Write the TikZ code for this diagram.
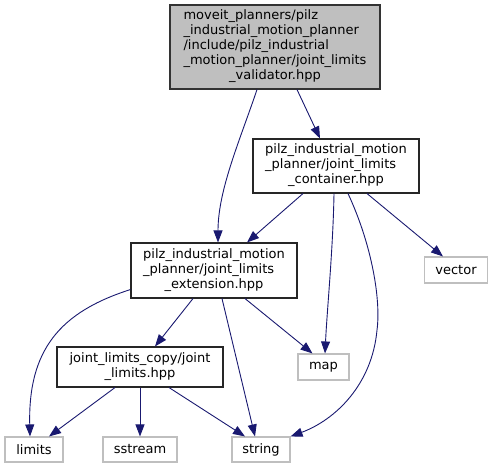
\documentclass[tikz,border=0pt]{standalone}
\usepackage{fontspec}
\setmainfont{DejaVu Sans}
\usetikzlibrary{arrows.meta}
\definecolor{edgeblue}{HTML}{191970}
\definecolor{focusfill}{HTML}{BFBFBF}
\definecolor{extgray}{HTML}{BFBFBF}
\newcommand{\boxtext}[2]{\begin{tabular}{@{}l@{}}#1\\\multicolumn{1}{@{}c@{}}{#2}\end{tabular}}
\tikzset{
  basefont/.style={font=\fontsize{13bp}{15bp}\selectfont},
  plainbox/.style={basefont, draw=black!85, line width=1.1bp, fill=white, inner sep=0pt},
  focusbox/.style={plainbox, fill=focusfill, draw=black!80},
  extbox/.style={basefont, draw=extgray, line width=1.1bp, fill=white, inner sep=0pt, minimum height=25bp},
  dep/.style={draw=edgeblue, line width=0.9bp, -{Triangle[length=12bp,width=9bp]}}
}
\begin{document}
\begin{tikzpicture}[x=1bp,y=-1bp]
\useasboundingbox (0,0) rectangle (493,468);
% nodes
\node[focusbox, minimum width=210bp, minimum height=84bp] (top) at (275,47)
  {\boxtext{moveit\_planners/pilz\\\_industrial\_motion\_planner\\/include/pilz\_industrial\\\_motion\_planner/joint\_limits}{\_validator.hpp}};
\node[plainbox, minimum width=166bp, minimum height=54bp] (cont) at (336,166)
  {\boxtext{pilz\_industrial\_motion\\\_planner/joint\_limits}{\_container.hpp}};
\node[plainbox, minimum width=166bp, minimum height=55bp] (ext) at (214,270.5)
  {\boxtext{pilz\_industrial\_motion\\\_planner/joint\_limits}{\_extension.hpp}};
\node[plainbox, minimum width=166bp, minimum height=40bp] (jlc) at (140,367)
  {\boxtext{joint\_limits\_copy/joint}{\_limits.hpp}};
\node[extbox, minimum width=63bp, minimum height=26bp] (vector) at (456,270) {vector};
\node[extbox, minimum width=51bp, minimum height=26bp] (map) at (323.5,367) {map};
\node[extbox, minimum width=58bp] (limits) at (34,449.5) {limits};
\node[extbox, minimum width=74bp] (sstream) at (140,449.5) {sstream};
\node[extbox, minimum width=58bp] (string) at (261,449.5) {string};
% edges
\draw[dep] ([xshift=-18bp]top.south) .. controls (240,140) and (218,190) .. ([xshift=4bp]ext.north);
\draw[dep] ([xshift=22bp]top.south) -- ([xshift=-16bp]cont.north);
\draw[dep] ([xshift=-33bp]cont.south) -- ([xshift=33bp]ext.north);
\draw[dep] ([xshift=-2bp]cont.south) .. controls (333,250) and (327,310) .. ([xshift=1.5bp]map.north);
\draw[dep] ([xshift=12bp]cont.south) .. controls (372,245) and (381,300) .. (377,330)
  .. controls (372,385) and (335,420) .. (string.north east);
\draw[dep] ([xshift=31bp]cont.south) -- ([xshift=-13bp]vector.north);
\draw[dep] ([yshift=9bp]ext.south west) .. controls (60,312) and (28,350) .. ([xshift=-4bp]limits.north);
\draw[dep] ([xshift=-21bp]ext.south) -- ([xshift=15bp]jlc.north);
\draw[dep] ([xshift=8bp]ext.south) -- ([xshift=-6bp]string.north);
\draw[dep] ([xshift=31bp]ext.south) -- ([xshift=-11bp]map.north);
\draw[dep] ([xshift=-25bp]jlc.south) -- ([xshift=15bp]limits.north);
\draw[dep] (jlc.south) -- (sstream.north);
\draw[dep] ([xshift=29bp]jlc.south) -- ([xshift=-16bp]string.north);
\end{tikzpicture}
\end{document}
